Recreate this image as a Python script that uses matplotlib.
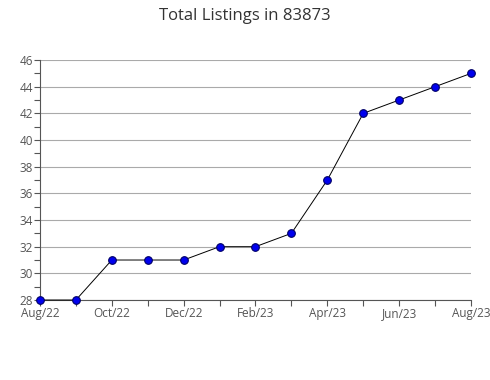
import matplotlib.pyplot as plt
import numpy as np

plt.rcParams['font.family'] = ['Open Sans', 'DejaVu Sans']

months = ["Aug/22", "Sep/22", "Oct/22", "Nov/22", "Dec/22", "Jan/23", "Feb/23",
          "Mar/23", "Apr/23", "May/23", "Jun/23", "Jul/23", "Aug/23"]
listings = [28, 28, 31, 31, 31, 32, 32, 33, 37, 42, 43, 44, 45]
tick_labels = ["Aug/22", "Oct/22", "Dec/22", "Feb/23", "Apr/23", "Jun/23", "Aug/23"]

x = np.arange(len(months))

fig = plt.figure(figsize=(4.9, 3.8), dpi=100)
ax = fig.add_axes([0.0816, 0.2105, 0.8796, 0.6315])

ax.plot(x, listings, '-', color='black', linewidth=0.7,
        marker='o', markersize=5.5, markerfacecolor='#0000ee',
        markeredgecolor='#000066', markeredgewidth=0.8, clip_on=False, zorder=3)

ax.set_xlim(0, len(months) - 1)
ax.set_ylim(28, 46)
ax.set_yticks(np.arange(28, 47, 2))
ax.set_yticks(np.arange(29, 46, 2), minor=True)
ax.set_xticks(x)
ax.set_xticklabels([m if m in tick_labels else "" for m in months])

ax.grid(axis='y', which='major', color='#aaaaaa', linewidth=0.8)
for s in ['top', 'right']:
    ax.spines[s].set_visible(False)
for s in ['left', 'bottom']:
    ax.spines[s].set_color('#555555')
    ax.spines[s].set_linewidth(0.8)

ax.tick_params(axis='both', which='both', colors='#555555', labelcolor='#555555',
               labelsize=8.5, length=4, width=0.8, pad=1)
ax.tick_params(axis='y', which='minor', length=4)

fig.text(0.5, 0.958, "Total Listings in 83873", fontsize=12, color='#333333',
         ha='center', va='center')

fig.savefig("out.png", dpi=100)
